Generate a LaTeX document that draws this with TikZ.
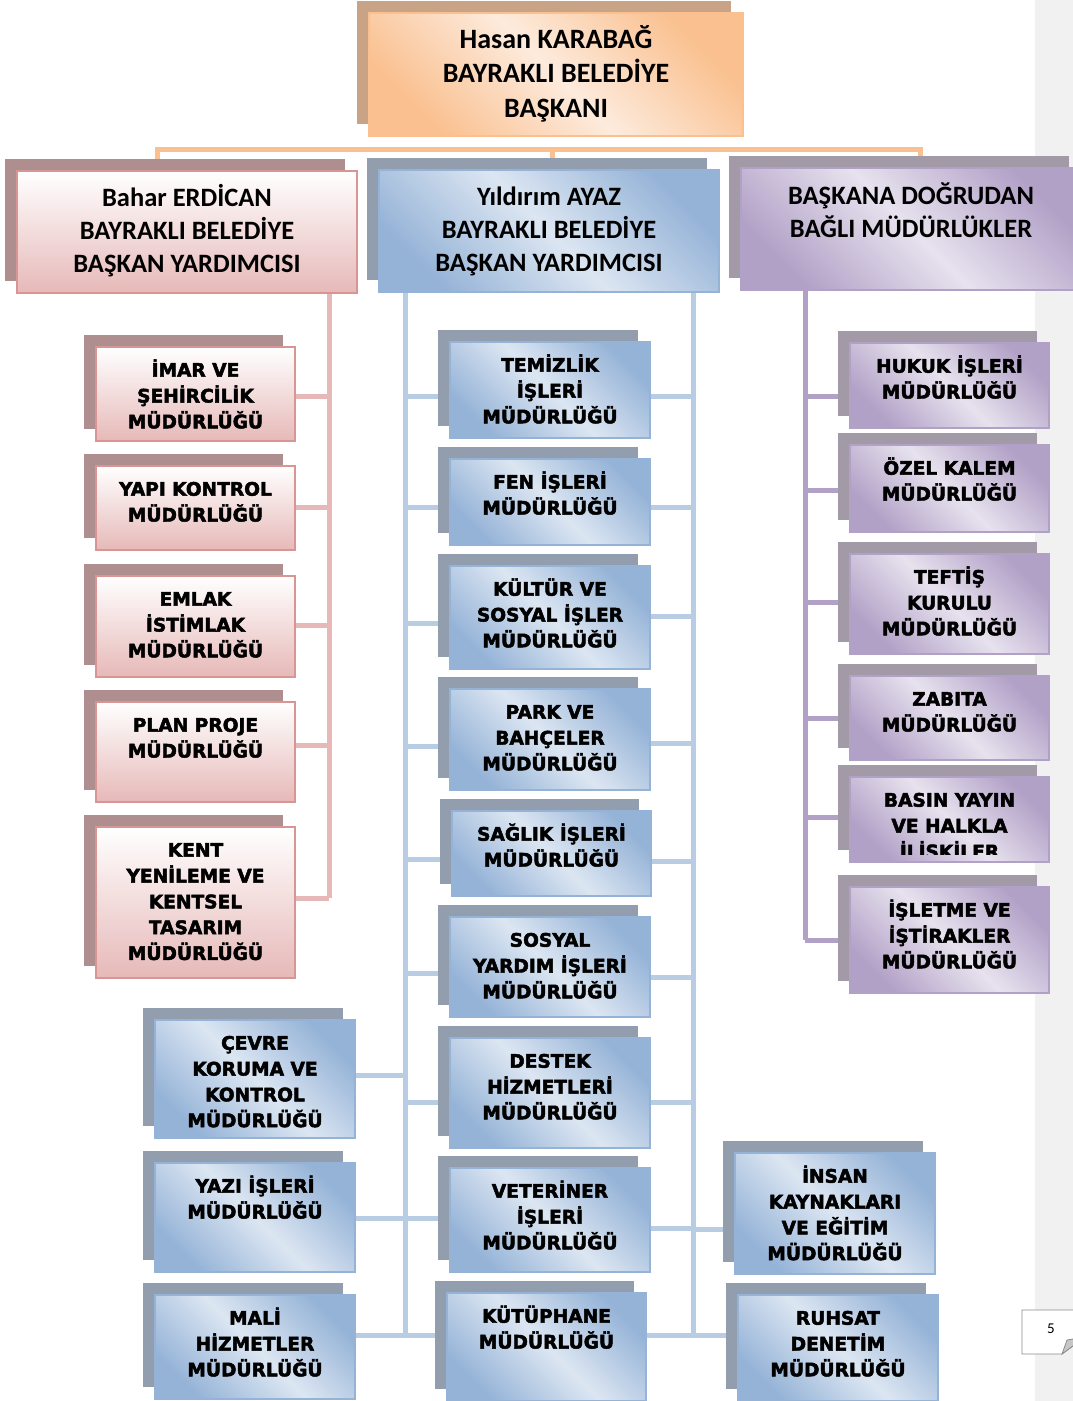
\documentclass[tikz,border=0pt]{standalone}
\usepackage{fontspec}
\setmainfont{Carlito}
\newfontfamily\boxfont{DejaVu Sans}
\usetikzlibrary{calc}
\definecolor{orD}{HTML}{FAC08F}
\definecolor{orL}{HTML}{FDEBDD}
\definecolor{orS}{HTML}{C9A385}
\definecolor{pkD}{HTML}{E6B9B8}
\definecolor{pkB}{HTML}{D99594}
\definecolor{pkS}{HTML}{AE8E8E}
\definecolor{blD}{HTML}{95B3D7}
\definecolor{blL}{HTML}{DCE6F2}
\definecolor{blS}{HTML}{929EAD}
\definecolor{blLine}{HTML}{B8CCE4}
\definecolor{puD}{HTML}{B2A1C7}
\definecolor{puL}{HTML}{E7E2EE}
\definecolor{puS}{HTML}{A39AA8}
\definecolor{stripgray}{HTML}{F1F1F1}
\tikzset{
  orline/.style={line width=5pt, draw=orD},
  pkline/.style={line width=5pt, draw=pkD},
  blline/.style={line width=5pt, draw=blLine},
  puline/.style={line width=5pt, draw=puD},
  orbox/.style={draw=orD, line width=1.5pt, left color=orD, right color=orD, middle color=orL, shading angle=-45, inner sep=0},
  pkbox/.style={draw=pkB, line width=1.5pt, top color=white, bottom color=pkD, inner sep=0},
  blbox/.style={draw=blD, line width=1.5pt, left color=blD, right color=blD, middle color=blL, shading angle=-45, inner sep=0},
  pubox/.style={draw=puD, line width=1.5pt, left color=puD, right color=puD, middle color=puL, shading angle=-45, inner sep=0},
  tophd/.style={font=\fontsize{28}{34.5}\selectfont\bfseries, align=center, inner sep=0},
  hdtxt/.style={font=\fontsize{26.5}{33}\selectfont\bfseries, align=center, inner sep=0},
  intxt/.style={font=\boxfont\bfseries\addfontfeature{FakeBold=2.5}\fontsize{18.6}{25.8}\selectfont, align=center, inner sep=0},
}
% #1 name, #2 kind, #3 x1, #4 y1, #5 x2, #6 y2, #7 text style, #8 text offset, #9 text
\newcommand\obox[9]{%
  \fill[#2S] (#3-12,#4-12) rectangle (#5-12,#6-12);
  \node[#2box, minimum width={#5-#3}, minimum height={#6-#4}] (#1) at ({(#3+#5)/2},{(#4+#6)/2}) {};
  \begin{scope}
    \clip (#3,#4) rectangle (#5,#6-8);
    \node[#7, anchor=north] (#1-t) at ([yshift=-#8]#1.north) {\strut #9};
  \end{scope}
}
\newcommand\allboxes{%
\obox{top}{or}{369}{13}{743}{136}{tophd}{11.85}{Hasan KARABAĞ\\BAYRAKLI BELEDİYE\\BAŞKANI}
\obox{bahar}{pk}{17}{171}{357}{293}{hdtxt}{13}{Bahar ERDİCAN\\BAYRAKLI BELEDİYE\\BAŞKAN YARDIMCISI}
\obox{yil}{bl}{379}{170}{719}{292}{hdtxt}{12.8}{Yıldırım AYAZ\\BAYRAKLI BELEDİYE\\BAŞKAN YARDIMCISI}
\obox{bas}{pu}{741}{168}{1081}{290}{hdtxt}{13.8}{BAŞKANA DOĞRUDAN\\BAĞLI MÜDÜRLÜKLER}
% pink column
\obox{imar}{pk}{96}{347}{295}{441}{intxt}{12.2}{İMAR VE\\ŞEHİRCİLİK\\MÜDÜRLÜĞÜ}
\obox{yapi}{pk}{96}{466}{295}{550}{intxt}{12.2}{YAPI KONTROL\\MÜDÜRLÜĞÜ}
\obox{emlak}{pk}{96}{576}{295}{677}{intxt}{12.2}{EMLAK\\İSTİMLAK\\MÜDÜRLÜĞÜ}
\obox{plan}{pk}{96}{702}{295}{802}{intxt}{12.2}{PLAN PROJE\\MÜDÜRLÜĞÜ}
\obox{kent}{pk}{96}{827}{295}{978}{intxt}{12.2}{KENT\\YENİLEME VE\\KENTSEL\\TASARIM\\MÜDÜRLÜĞÜ}
% blue middle column
\obox{tem}{bl}{450}{342}{650}{438}{intxt}{12.2}{TEMİZLİK\\İŞLERİ\\MÜDÜRLÜĞÜ}
\obox{fen}{bl}{450}{459}{650}{545}{intxt}{12.2}{FEN İŞLERİ\\MÜDÜRLÜĞÜ}
\obox{kul}{bl}{450}{566}{650}{669}{intxt}{12.2}{KÜLTÜR VE\\SOSYAL İŞLER\\MÜDÜRLÜĞÜ}
\obox{park}{bl}{450}{689}{650}{790}{intxt}{12.2}{PARK VE\\BAHÇELER\\MÜDÜRLÜĞÜ}
\obox{sag}{bl}{452}{811}{651}{896}{intxt}{12.2}{SAĞLIK İŞLERİ\\MÜDÜRLÜĞÜ}
\obox{sos}{bl}{450}{917}{650}{1017}{intxt}{12.2}{SOSYAL\\YARDIM İŞLERİ\\MÜDÜRLÜĞÜ}
\obox{des}{bl}{450}{1038}{650}{1148}{intxt}{12.2}{DESTEK\\HİZMETLERİ\\MÜDÜRLÜĞÜ}
\obox{vet}{bl}{450}{1168}{650}{1272}{intxt}{12.2}{VETERİNER\\İŞLERİ\\MÜDÜRLÜĞÜ}
\obox{kut}{bl}{447}{1293}{646}{1401}{intxt}{12.2}{KÜTÜPHANE\\MÜDÜRLÜĞÜ}
% blue left column
\obox{cev}{bl}{155}{1020}{355}{1138}{intxt}{12.2}{ÇEVRE\\KORUMA VE\\KONTROL\\MÜDÜRLÜĞÜ}
\obox{yaz}{bl}{155}{1163}{355}{1272}{intxt}{12.2}{YAZI İŞLERİ\\MÜDÜRLÜĞÜ}
\obox{mali}{bl}{155}{1295}{355}{1399}{intxt}{12.2}{MALİ\\HİZMETLER\\MÜDÜRLÜĞÜ}
% blue right column
\obox{ins}{bl}{735}{1153}{935}{1274}{intxt}{12.2}{İNSAN\\KAYNAKLARI\\VE EĞİTİM\\MÜDÜRLÜĞÜ}
\obox{ruh}{bl}{738}{1295}{938}{1401}{intxt}{12.2}{RUHSAT\\DENETİM\\MÜDÜRLÜĞÜ}
% purple column
\obox{huk}{pu}{850}{343}{1049}{428}{intxt}{12.2}{HUKUK İŞLERİ\\MÜDÜRLÜĞÜ}
\obox{oze}{pu}{850}{445}{1049}{532}{intxt}{12.2}{ÖZEL KALEM\\MÜDÜRLÜĞÜ}
\obox{tef}{pu}{850}{554}{1049}{654}{intxt}{12.2}{TEFTİŞ\\KURULU\\MÜDÜRLÜĞÜ}
\obox{zab}{pu}{850}{676}{1049}{760}{intxt}{12.2}{ZABITA\\MÜDÜRLÜĞÜ}
\obox{basin}{pu}{850}{777}{1049}{862}{intxt}{12.2}{BASIN YAYIN\\VE HALKLA\\İLİŞKİLER}
\obox{isl}{pu}{850}{887}{1049}{993}{intxt}{12.2}{İŞLETME VE\\İŞTİRAKLER\\MÜDÜRLÜĞÜ}
}
\begin{document}
\begin{tikzpicture}[x=1pt,y=-1pt]
\fill[white] (0,0) rectangle (1073,1401);
\useasboundingbox (0,0) rectangle (1073,1401);
\fill[stripgray] (1035,0) rectangle (1073,1401);

% junction coordinates
\coordinate (oL) at (157,149);
\coordinate (oM) at (552,149);
\coordinate (oR) at (920,149);
\coordinate (pT) at (329,293);
\coordinate (pB) at (329,898);
\coordinate (bLT) at (405,292);
\coordinate (bLB) at (405,1335);
\coordinate (bRT) at (693,292);
\coordinate (bRB) at (693,1335);
\coordinate (uT) at (805,290);
\coordinate (uB) at (805,940);

% invisible pass to define node names for connectors
\begin{scope}[opacity=0, transparency group]
\allboxes
\end{scope}

% connectors
\draw[orline] (bahar.north -| oL) -- (oL) -- (oR) -- (bas.north -| oR);
\draw[orline] (oM) -- (yil.north -| oM);
\draw[pkline] (pT) -- (pB);
\draw[pkline] (imar.east |- 0,396) -- (pT |- 0,396);
\draw[pkline] (yapi.east |- 0,507) -- (pT |- 0,507);
\draw[pkline] (emlak.east |- 0,625) -- (pT |- 0,625);
\draw[pkline] (plan.east |- 0,745) -- (pT |- 0,745);
\draw[pkline] (kent.east |- pB) -- (pB);
\draw[blline] (bLT) -- (bLB);
\draw[blline] (bRT) -- (bRB);
\draw[blline] (bLT |- 0,396) -- (tem.west |- 0,396);
\draw[blline] (bLT |- 0,507) -- (fen.west |- 0,507);
\draw[blline] (bLT |- 0,623) -- (kul.west |- 0,623);
\draw[blline] (bLT |- 0,746) -- (park.west |- 0,746);
\draw[blline] (bLT |- 0,859) -- (sag.west |- 0,859);
\draw[blline] (bLT |- 0,973) -- (sos.west |- 0,973);
\draw[blline] (bLT |- 0,1102) -- (des.west |- 0,1102);
\draw[blline] (bLT |- 0,1218) -- (vet.west |- 0,1218);
\draw[blline] (bLB) -- (kut.west |- bLB);
\draw[blline] (cev.east |- 0,1075) -- (bLT |- 0,1075);
\draw[blline] (yaz.east |- 0,1218) -- (bLT |- 0,1218);
\draw[blline] (mali.east |- bLB) -- (bLB);
\draw[blline] (tem.east |- 0,396) -- (bRT |- 0,396);
\draw[blline] (fen.east |- 0,507) -- (bRT |- 0,507);
\draw[blline] (kul.east |- 0,616) -- (bRT |- 0,616);
\draw[blline] (park.east |- 0,743) -- (bRT |- 0,743);
\draw[blline] (sag.east |- 0,861) -- (bRT |- 0,861);
\draw[blline] (sos.east |- 0,977) -- (bRT |- 0,977);
\draw[blline] (des.east |- 0,1102) -- (bRT |- 0,1102);
\draw[blline] (vet.east |- 0,1228) -- (bRT |- 0,1228);
\draw[blline] (kut.east |- bRB) -- (bRB);
\draw[blline] (bRT |- 0,1229) -- (ins.west |- 0,1229);
\draw[blline] (bRB) -- (ruh.west |- bRB);
\draw[puline] (uT) -- (uB);
\draw[puline] (uT |- 0,396) -- (huk.west |- 0,396);
\draw[puline] (uT |- 0,490) -- (oze.west |- 0,490);
\draw[puline] (uT |- 0,602) -- (tef.west |- 0,602);
\draw[puline] (uT |- 0,718) -- (zab.west |- 0,718);
\draw[puline] (uT |- 0,817) -- (basin.west |- 0,817);
\draw[puline] (uB) -- (isl.west |- uB);

% visible boxes
\allboxes

% page number tab
\draw[line width=0.8pt, draw=black!45, fill=white] (1022,1310) -- (1085,1310) -- (1085,1337) -- (1062,1354) -- (1022,1354) -- cycle;
\filldraw[line width=0.8pt, draw=black!45, fill=black!22] (1062,1354) -- (1067,1340) -- (1085,1337) -- cycle;
\node[font=\fontsize{15}{18}\selectfont, inner sep=0] (pg) at (1051,1329) {5};
\end{tikzpicture}
\end{document}
